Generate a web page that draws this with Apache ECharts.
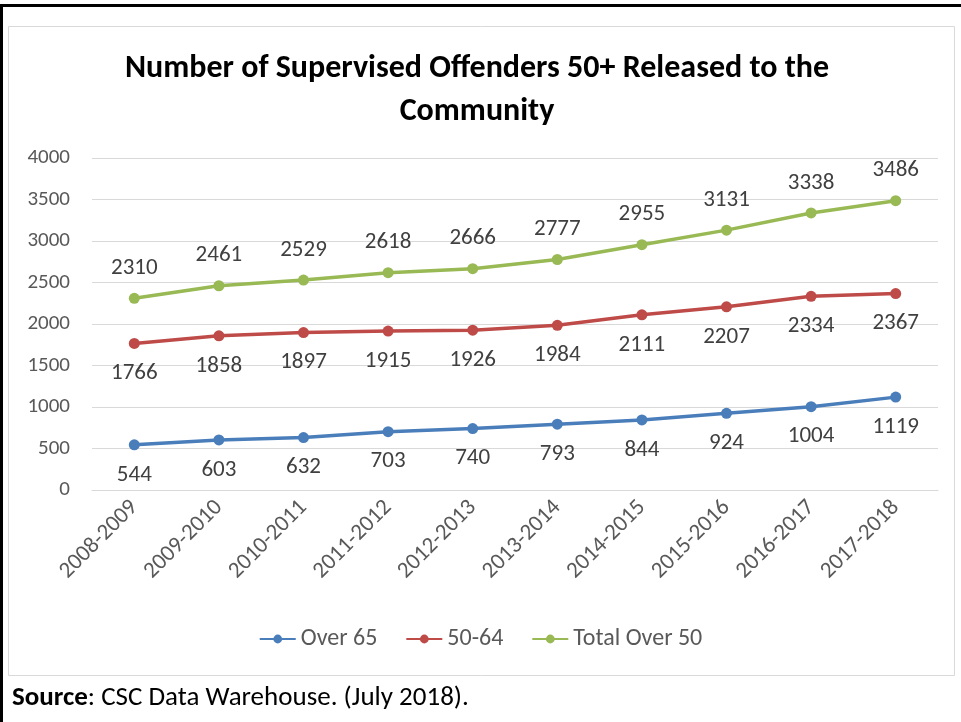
<!DOCTYPE html>
<html><head><meta charset="utf-8">
<script src="https://cdn.jsdelivr.net/npm/echarts@6/dist/echarts.min.js"></script>
<style>html,body{margin:0;padding:0;background:#fff;}#c{width:961px;height:722px;}</style>
</head><body><div id="c"></div>
<script>
var categories = ['2008-2009','2009-2010','2010-2011','2011-2012','2012-2013','2013-2014','2014-2015','2015-2016','2016-2017','2017-2018'];
var over65 = [544,603,632,703,740,793,844,924,1004,1119];
var age5064 = [1766,1858,1897,1915,1926,1984,2111,2207,2334,2367];
var totalOver50 = [2310,2461,2529,2618,2666,2777,2955,3131,3338,3486];
var yTicks = [0,500,1000,1500,2000,2500,3000,3500,4000];

var chart = echarts.init(document.getElementById('c'), null, {renderer:'canvas'});
var font = "Calibri, Carlito, 'Liberation Sans Narrow', 'Open Sans', sans-serif";
function mk(name, data, color, pos){
  return {name:name, type:'line', data:data, symbol:'circle', symbolSize:11,
    lineStyle:{color:color,width:3.5}, itemStyle:{color:color},
    label:{show:true, position:pos, distance:13, color:'#404040', fontSize:23, fontFamily:font},
    emphasis:{disabled:true}, animation:false};
}
chart.setOption({
  animation:false,
  graphic:[
    {type:'rect', shape:{x:1.5,y:5.5,width:965,height:722}, style:{fill:null, stroke:'#000', lineWidth:3}},
    {type:'rect', shape:{x:8.5,y:26.5,width:946,height:649}, style:{fill:null, stroke:'#d9d9d9', lineWidth:1}},
    {type:'text', left:12, top:685, style:{text:'{b|Source}: CSC Data Warehouse. (July 2018).', font:"27px "+font, fill:'#000',
      rich:{b:{fontWeight:'bold', fontSize:27, fontFamily:font}}}}
  ],
  title:{text:'Number of Supervised Offenders 50+ Released to the\nCommunity', left:472, top:42, textAlign:'center',
    textStyle:{fontSize:32, fontWeight:'bold', color:'#000', fontFamily:font, lineHeight:43}},
  legend:{top:622, left:'center', itemWidth:36, itemHeight:11, itemGap:28,
    textStyle:{fontSize:24, color:'#595959', fontFamily:font},
    data:['Over 65','50-64','Total Over 50']},
  grid:{left:92, right:23, top:158, bottom:232, containLabel:false},
  xAxis:{type:'category', data:categories, boundaryGap:true,
    axisLine:{lineStyle:{color:'#d9d9d9'}}, axisTick:{show:false},
    axisLabel:{rotate:45, fontSize:23, color:'#595959', fontFamily:font, margin:14, interval:0}},
  yAxis:{type:'value', min:0, max:4000, interval:500,
    axisLine:{show:false}, axisTick:{show:false},
    splitLine:{lineStyle:{color:'#d9d9d9'}},
    axisLabel:{fontSize:21, color:'#595959', fontFamily:font, margin:22,
      formatter:function(v){return yTicks.indexOf(v)>=0?String(v):'';}}},
  series:[
    mk('Over 65', over65, '#4a7ebb', 'bottom'),
    mk('50-64', age5064, '#be4b48', 'bottom'),
    mk('Total Over 50', totalOver50, '#98b954', 'top')
  ]
});
</script></body></html>
